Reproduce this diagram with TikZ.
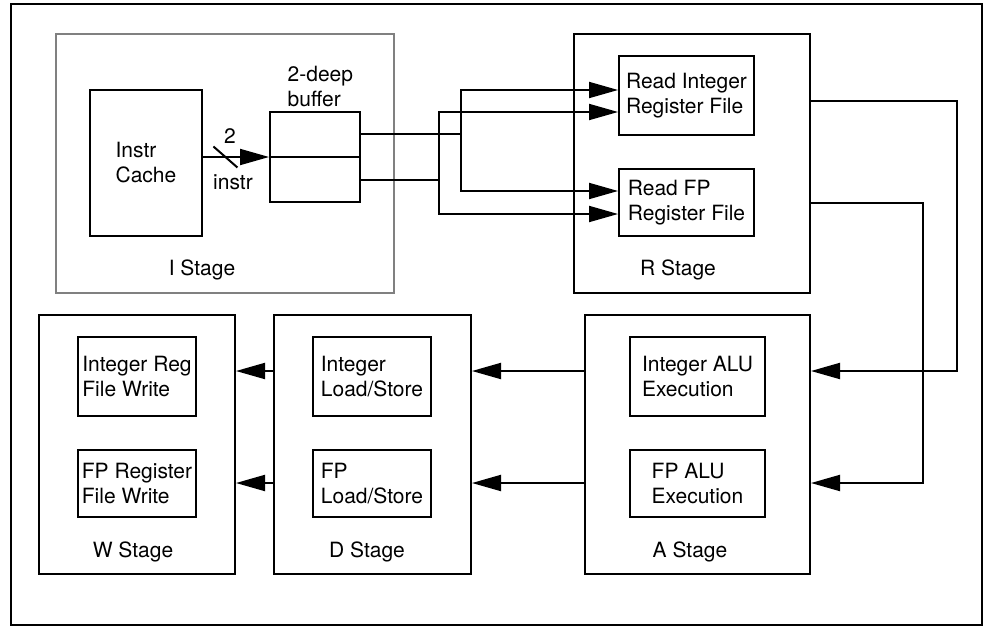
\documentclass[tikz,border=0pt]{standalone}
\usepackage{fontspec}
\setmainfont{TeX Gyre Heros}
\usetikzlibrary{arrows.meta,calc}

\begin{document}
\begin{tikzpicture}[x=0.5pt, y=-0.5pt, line width=1pt,
    every node/.style={font=\fontsize{10.5}{12.5}\selectfont},
    stagebox/.style 2 args={draw, inner sep=0pt, minimum width=#1, minimum height=#2},
    unitbox/.style 2 args={draw, inner sep=0pt, align=left, minimum width=#1, minimum height=#2},
    arr/.style={-{Triangle[length=14.5pt,width=8pt]}}]

  \useasboundingbox (0,0) rectangle (984,626);
  \draw (11,4) rectangle (982,625);

  % stages
  \node[stagebox={169pt}{129.5pt}, draw=black!50, line width=0.8pt] (istage) at (225,163.5) {};
  \node[stagebox={118pt}{129.5pt}] (rstage) at (692,163.5) {};
  \node[stagebox={98pt}{129.5pt}] (wstage) at (137,444.5) {};
  \node[stagebox={98.5pt}{129.5pt}] (dstage) at (372.5,444.5) {};
  \node[stagebox={112.5pt}{129.5pt}] (astage) at (697.5,444.5) {};

  \node (ilabel) at (202,270) {I Stage};
  \node (rlabel) at (678,270) {R Stage};
  \node (wlabel) at (133,552) {W Stage};
  \node (dlabel) at (367,552) {D Stage};
  \node (alabel) at (690,552) {A Stage};

  % units
  \node[unitbox={56pt}{73pt}] (cache) at (146,163) {Instr\\Cache};
  \node[unitbox={45pt}{45pt}] (buf) at (315,157) {};
  \draw (buf.west) -- (buf.east);
  \node[align=left, anchor=west] (buflabel) at (280,87) {2-deep\\buffer};

  \node[unitbox={67.5pt}{39.5pt}] (rint) at (686.5,95.5) {Read Integer\\Register File};
  \node[unitbox={67.5pt}{33.5pt}] (rfp) at (686.5,202.5) {Read FP\\Register File};
  \node[unitbox={67.5pt}{39.5pt}] (aint) at (697.5,376.5) {Integer ALU\\Execution};
  \node[unitbox={67.5pt}{33.5pt}] (afp) at (697.5,483.5) {FP ALU\\Execution};
  \node[unitbox={59pt}{39.5pt}] (dint) at (372,376.5) {Integer\\Load/Store};
  \node[unitbox={59pt}{33.5pt}] (dfp) at (372,483.5) {FP\\Load/Store};
  \node[unitbox={59pt}{39.5pt}] (wint) at (137,376.5) {Integer Reg\\File Write};
  \node[unitbox={59pt}{33.5pt}] (wfp) at (137,483.5) {FP Register\\File Write};

  % fetch
  \draw[arr] (cache.east |- buf) -- (buf.west);
  \coordinate (slash) at ($(cache.east |- buf)!0.34!(buf.west)$);
  \draw (slash) ++(-12,-10.5) -- ++(24,21);
  \node (buswidth) at (230,136) {2};
  \node (busunit) at (233,182) {instr};

  % buffer to read stage
  \coordinate (bt) at ($(buf.north east)!0.25!(buf.south east)$);
  \coordinate (bb) at ($(buf.north east)!0.75!(buf.south east)$);
  \coordinate (ja) at (461,0);
  \coordinate (jb) at (439,0);
  \coordinate (ri1) at (0,90);
  \coordinate (ri2) at (0,112);
  \coordinate (rf1) at (0,191);
  \coordinate (rf2) at (0,214);
  \draw (bt) -- (bt -| ja);
  \draw[arr] (bt -| ja) |- (rint.west |- ri1);
  \draw[arr] (bt -| ja) |- (rfp.west |- rf1);
  \draw (bb) -- (bb -| jb);
  \draw[arr] (bb -| jb) |- (rint.west |- ri2);
  \draw[arr] (bb -| jb) |- (rfp.west |- rf2);

  % read stage to alu stage
  \coordinate (ka) at (957,0);
  \coordinate (kb) at (923,0);
  \coordinate (ro1) at (0,101);
  \coordinate (ro2) at (0,203);
  \coordinate (row1) at (0,371);
  \coordinate (row2) at (0,483);
  \draw[arr] (rstage.east |- ro1) -| (ka |- row1) -- (astage.east |- row1);
  \draw[arr] (rstage.east |- ro2) -| (kb |- row2) -- (astage.east |- row2);

  \foreach \r in {row1,row2} {
    \draw[arr] (astage.west |- \r) -- (dstage.east |- \r);
    \draw[arr] (dstage.west |- \r) -- (wstage.east |- \r);
  }
\end{tikzpicture}
\end{document}
